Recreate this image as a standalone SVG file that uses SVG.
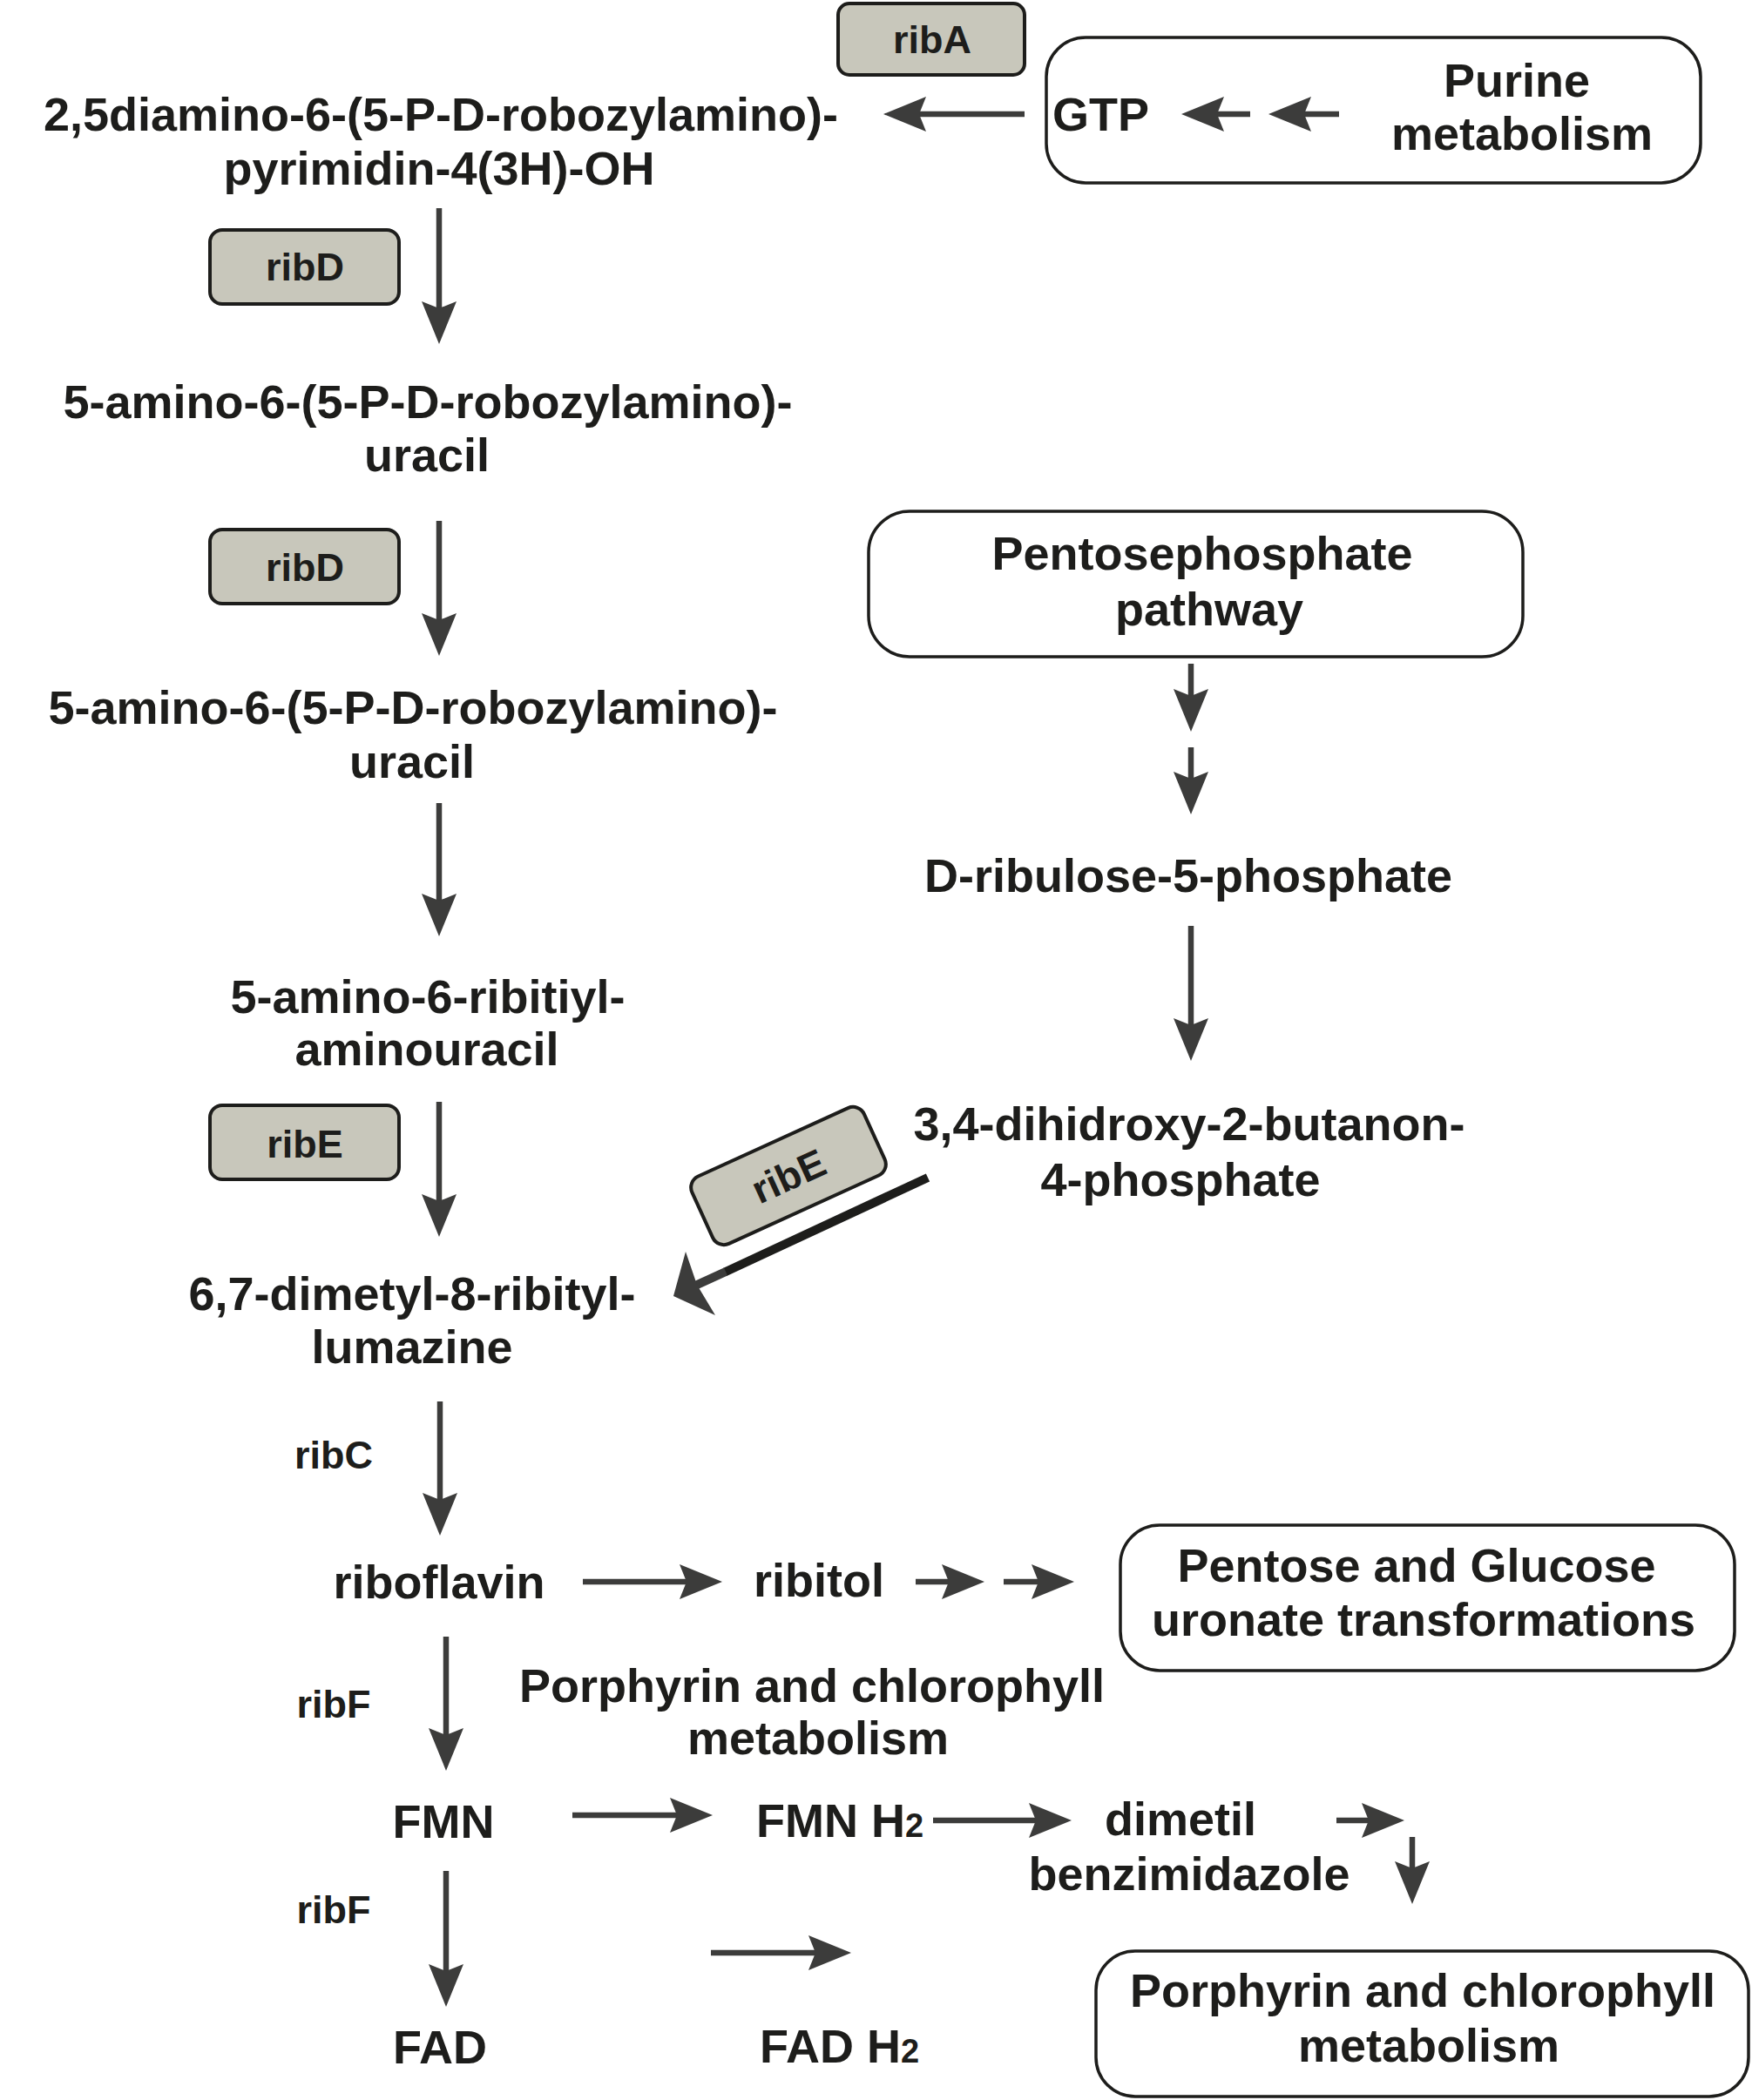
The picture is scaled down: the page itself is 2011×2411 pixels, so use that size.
<svg xmlns="http://www.w3.org/2000/svg" width="2011" height="2411" viewBox="0 0 2011 2411">
<style>
.t{font-family:"Liberation Sans",Arial,Helvetica,sans-serif;font-weight:bold;font-size:54px;fill:#1d1d1b;text-anchor:middle}
.s{text-anchor:start}
.e{font-size:45px}
.sub{font-size:38px}
.enz{fill:#c8c7bb;stroke:#1d1d1b;stroke-width:4}
.box{fill:#ffffff;stroke:#1d1d1b;stroke-width:3.5}
.arr{stroke:#3c3c3b;stroke-width:6.5;fill:none;marker-end:url(#ah)}
</style>
<defs>
<marker id="ah" viewBox="0 0 49 40" markerWidth="49" markerHeight="40" markerUnits="userSpaceOnUse" refX="8" refY="20" orient="auto">
<path d="M0,0 L49,20 L0,40 L8,20 Z" fill="#3c3c3b"/>
</marker>
</defs>
<rect x="0" y="0" width="2011" height="2411" fill="#ffffff"/>

<g id="purine-box"><rect class="box" x="1201" y="43" width="751" height="167" rx="45"/>
<text class="t" x="1741" y="111">Purine</text><text class="t" x="1747" y="172">metabolism</text></g>
<g id="gtp"><text class="t s" x="1208" y="150">GTP</text></g>
<g id="ribA"><rect class="enz" x="962" y="4" width="214" height="82" rx="13"/><text class="t e" x="1070" y="61">ribA</text></g>

<g id="n1"><text class="t" x="506" y="150">2,5diamino-6-(5-P-D-robozylamino)-</text><text class="t" x="504" y="212">pyrimidin-4(3H)-OH</text></g>
<g id="ribD1"><rect class="enz" x="241" y="264" width="217" height="85" rx="14"/><text class="t e" x="350" y="322">ribD</text></g>
<g id="n2"><text class="t" x="491" y="480">5-amino-6-(5-P-D-robozylamino)-</text><text class="t" x="490" y="541">uracil</text></g>
<g id="ribD2"><rect class="enz" x="241" y="608" width="217" height="85" rx="14"/><text class="t e" x="350" y="667">ribD</text></g>
<g id="n3"><text class="t" x="474" y="831">5-amino-6-(5-P-D-robozylamino)-</text><text class="t" x="473" y="893">uracil</text></g>
<g id="n4"><text class="t" x="491" y="1163">5-amino-6-ribitiyl-</text><text class="t" x="490" y="1223">aminouracil</text></g>
<g id="ribE1"><rect class="enz" x="241" y="1269" width="217" height="85" rx="14"/><text class="t e" x="350" y="1329">ribE</text></g>
<g id="n5"><text class="t" x="473" y="1504">6,7-dimetyl-8-ribityl-</text><text class="t" x="473" y="1565">lumazine</text></g>
<g id="ribC"><text class="t e" x="383" y="1686">ribC</text></g>
<g id="riboflavin"><text class="t" x="504" y="1835">riboflavin</text></g>
<g id="ribF1"><text class="t e" x="383" y="1972">ribF</text></g>
<g id="FMN"><text class="t" x="509" y="2110">FMN</text></g>
<g id="ribF2"><text class="t e" x="383" y="2208">ribF</text></g>
<g id="FAD"><text class="t" x="505" y="2369">FAD</text></g>

<g id="pentosephosphate-box"><rect class="box" x="997" y="587" width="751" height="167" rx="47"/>
<text class="t" x="1380" y="654">Pentosephosphate</text><text class="t" x="1388" y="718">pathway</text></g>
<g id="ribulose"><text class="t" x="1364" y="1024">D-ribulose-5-phosphate</text></g>
<g id="butanon"><text class="t" x="1365" y="1309">3,4-dihidroxy-2-butanon-</text><text class="t" x="1355" y="1373">4-phosphate</text></g>
<g id="ribE2" transform="rotate(-24.5 905 1350)"><rect class="enz" x="796.5" y="1307.5" width="217" height="85" rx="14"/><text class="t e" x="905" y="1366">ribE</text></g>

<g id="ribitol"><text class="t" x="940" y="1833">ribitol</text></g>
<g id="pentose-glucose-box"><rect class="box" x="1286" y="1751" width="705" height="167" rx="45"/>
<text class="t" x="1626" y="1816">Pentose and Glucose</text><text class="t" x="1634" y="1878">uronate transformations</text></g>
<g id="porphyrin-label"><text class="t" x="932" y="1954">Porphyrin and chlorophyll</text><text class="t" x="939" y="2014">metabolism</text></g>
<g id="FMNH2"><text class="t s" x="868" y="2109">FMN H<tspan class="sub">2</tspan></text></g>
<g id="dimetil"><text class="t" x="1355" y="2107">dimetil</text><text class="t" x="1365" y="2170">benzimidazole</text></g>
<g id="FADH2"><text class="t s" x="872" y="2368">FAD H<tspan class="sub">2</tspan></text></g>
<g id="porphyrin-box"><rect class="box" x="1258" y="2240" width="749" height="167" rx="45"/>
<text class="t" x="1633" y="2304">Porphyrin and chlorophyll</text><text class="t" x="1640" y="2367">metabolism</text></g>

<g id="connectors">
<line class="arr" x1="504" y1="239" x2="504" y2="354"/>
<line class="arr" x1="504" y1="598" x2="504" y2="712"/>
<line class="arr" x1="504" y1="922" x2="504" y2="1034"/>
<line class="arr" x1="504" y1="1265" x2="504" y2="1379"/>
<line class="arr" x1="505" y1="1609" x2="505" y2="1722"/>
<line class="arr" x1="512" y1="1879" x2="512" y2="1992"/>
<line class="arr" x1="512" y1="2148" x2="512" y2="2263"/>
<line class="arr" x1="1367" y1="762" x2="1367" y2="799"/>
<line class="arr" x1="1367" y1="858" x2="1367" y2="894"/>
<line class="arr" x1="1367" y1="1063" x2="1367" y2="1177"/>
<line class="arr" x1="1621" y1="2109" x2="1621" y2="2145"/>
<line class="arr" x1="1176" y1="131" x2="1055" y2="131"/>
<line class="arr" x1="1435" y1="131" x2="1397" y2="131"/>
<line class="arr" x1="1537" y1="131" x2="1497" y2="131"/>
<line class="arr" x1="669" y1="1816" x2="788" y2="1816"/>
<line class="arr" x1="1051" y1="1816" x2="1089" y2="1816"/>
<line class="arr" x1="1152" y1="1816" x2="1192" y2="1816"/>
<line class="arr" x1="657" y1="2084" x2="777" y2="2084"/>
<line class="arr" x1="1071" y1="2090" x2="1189" y2="2090"/>
<line class="arr" x1="1534" y1="2090" x2="1571" y2="2090"/>
<line class="arr" x1="816" y1="2242" x2="936" y2="2242"/>
<g id="ribE-diagonal">
<line x1="1065" y1="1352" x2="832" y2="1460.5" stroke="#1d1d1b" stroke-width="10"/>
<line x1="833" y1="1460" x2="798" y2="1476" stroke="#3c3c3b" stroke-width="10"/>
<path d="M773,1488 L787,1437 L800,1475 L821,1510 Z" fill="#3c3c3b"/>
</g>
</g>
</svg>
